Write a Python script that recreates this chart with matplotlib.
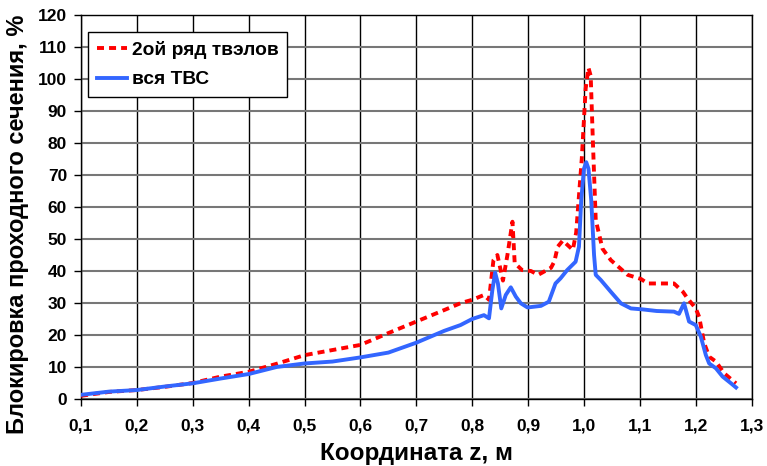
import numpy as np
import matplotlib.pyplot as plt

plt.rcParams['font.family'] = ['Liberation Sans', 'DejaVu Sans']
plt.rcParams['font.weight'] = 'bold'

# 2ой ряд твэлов (red dashed)
z_red = [0.10, 0.15, 0.20, 0.25, 0.30, 0.35, 0.40, 0.45, 0.50, 0.55, 0.60, 0.65,
         0.70, 0.75, 0.78, 0.80, 0.821, 0.830, 0.838, 0.845, 0.855, 0.863, 0.872,
         0.876, 0.889, 0.905, 0.918, 0.941, 0.947, 0.953, 0.962, 0.980, 0.986,
         0.996, 1.003, 1.008, 1.012, 1.016, 1.021, 1.033, 1.048, 1.078, 1.102,
         1.114, 1.140, 1.161, 1.177, 1.185, 1.200, 1.206, 1.215, 1.224, 1.236,
         1.251, 1.272]
v_red = [1.0, 2.2, 2.8, 3.8, 5.0, 7.0, 8.5, 11.0, 13.7, 15.3, 16.9, 20.6,
         24.2, 27.8, 30.0, 31.0, 32.5, 31.0, 43.4, 45.0, 37.0, 45.0, 55.4,
         42.5, 40.3, 40.0, 38.8, 41.0, 43.0, 47.6, 49.5, 46.6, 52.0,
         75.0, 97.0, 103.5, 101.0, 80.0, 56.0, 47.0, 43.4, 38.8, 37.5,
         36.1, 36.1, 36.1, 33.5, 31.5, 28.3, 25.7, 17.5, 13.2, 11.7,
         8.0, 4.9]

# вся ТВС (blue solid)
z_blue = [0.10, 0.15, 0.20, 0.25, 0.30, 0.35, 0.40, 0.45, 0.50, 0.55, 0.60, 0.65,
          0.70, 0.75, 0.779, 0.80, 0.821, 0.830, 0.836, 0.841, 0.846, 0.852, 0.860,
          0.869, 0.878, 0.887, 0.899, 0.923, 0.937, 0.949, 0.958, 0.970, 0.985,
          0.991, 0.995, 1.000, 1.004, 1.008, 1.013, 1.018, 1.021, 1.030, 1.048,
          1.066, 1.084, 1.105, 1.130, 1.161, 1.170, 1.179, 1.188, 1.200, 1.209,
          1.218, 1.224, 1.236, 1.248, 1.263, 1.272]
v_blue = [1.3, 2.3, 2.8, 3.9, 4.9, 6.4, 7.8, 10.0, 11.1, 11.7, 13.0, 14.5,
          17.6, 21.3, 23.1, 25.0, 26.2, 25.2, 34.0, 39.5, 36.1, 28.3, 32.5,
          34.9, 32.0, 29.9, 28.6, 29.1, 30.4, 36.1, 37.7, 40.3, 42.9,
          47.6, 62.0, 72.0, 74.0, 72.0, 62.0, 45.0, 38.8, 37.2, 33.5,
          29.9, 28.3, 28.0, 27.5, 27.3, 26.6, 29.9, 24.2, 23.1, 19.5,
          13.75, 11.1, 9.6, 7.0, 4.9, 3.6]

x_ticks = [0.1, 0.2, 0.3, 0.4, 0.5, 0.6, 0.7, 0.8, 0.9, 1.0, 1.1, 1.2, 1.3]
x_tick_labels = ["0,1", "0,2", "0,3", "0,4", "0,5", "0,6", "0,7", "0,8",
                 "0,9", "1,0", "1,1", "1,2", "1,3"]
y_ticks = np.arange(0, 121, 10)

fig = plt.figure(figsize=(7.67, 4.66), dpi=100)
ax = fig.add_axes([0.1056, 0.1438, 0.8744, 0.824])

ax.plot(z_red, v_red, color="red", lw=2.8, linestyle=(0, (1.8, 1.3)),
        label="2ой ряд твэлов", zorder=3)
ax.plot(z_blue, v_blue, color="#3366ff", lw=2.8, label="вся ТВС", zorder=4)

ax.set_xlim(0.1, 1.3)
ax.set_ylim(0, 120)
ax.set_xticks(x_ticks)
ax.set_xticklabels(x_tick_labels)
ax.set_yticks(y_ticks)
ax.tick_params(labelsize=12.5, direction="out", length=5, width=1, pad=5)
ax.tick_params(axis="x", pad=9)
for lbl in ax.get_xticklabels() + ax.get_yticklabels():
    lbl.set_fontweight("bold")

ax.xaxis.grid(True, color="black", lw=1)
ax.yaxis.grid(True, color="#777777", lw=1.5)
ax.set_axisbelow(True)
for s in ax.spines.values():
    s.set_color("black")
    s.set_linewidth(1)

ax.set_xlabel("Координата z, м", fontsize=17.5, fontweight="bold", labelpad=6)
ax.set_ylabel("Блокировка проходного сечения, %", fontsize=17,
              fontweight="bold")
ax.yaxis.set_label_coords(-0.0775, 0.455)

leg = ax.legend(loc="upper left", bbox_to_anchor=(0.0104, 0.956),
                borderaxespad=0, fontsize=13.8, frameon=True, fancybox=False,
                framealpha=1, edgecolor="black", handlelength=1.6,
                handletextpad=0.25, borderpad=0.45, labelspacing=0.65)
leg.get_frame().set_linewidth(1)
for t in leg.get_texts():
    t.set_fontweight("bold")

fig.savefig("out.png", dpi=100)
